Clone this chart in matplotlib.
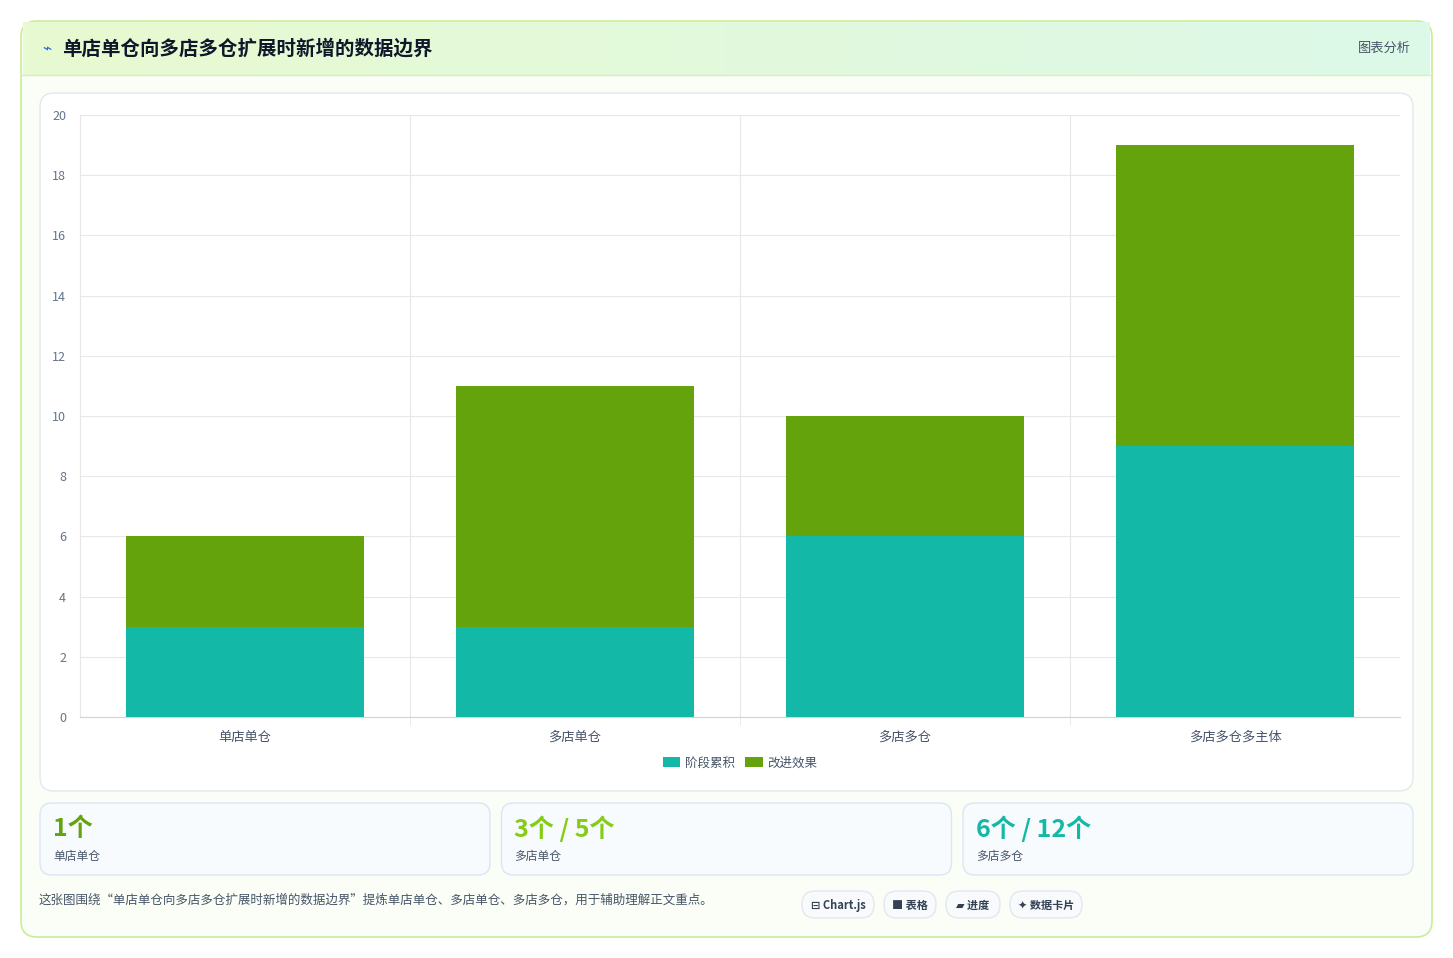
import matplotlib.pyplot as plt
from matplotlib.patches import FancyBboxPatch
from matplotlib.colors import LinearSegmentedColormap
import numpy as np

plt.rcParams['font.family'] = ['Noto Sans CJK SC', 'DejaVu Sans']

# 数据
categories = ["单店单仓", "多店单仓", "多店多仓", "多店多仓多主体"]
stage_acc = [3, 3, 6, 9]
improve = [3, 8, 4, 10]
series_names = ["阶段累积", "改进效果"]
card_values = ["1个", "3个 / 5个", "6个 / 12个"]
card_labels = ["单店单仓", "多店单仓", "多店多仓"]
card_colors = ["#65a30d", "#84cc16", "#14b8a6"]
tags = ["⊟ Chart.js", "■ 表格", "▰ 进度", "✦ 数据卡片"]

W, H = 1453, 958
fig = plt.figure(figsize=(W / 100, H / 100), dpi=100)
fig.patch.set_facecolor('#ffffff')

def box(x, y, w, h, fc, ec, r=12, lw=1, z=-10):
    # 像素坐标 (左上角) 转为图形坐标
    p = FancyBboxPatch((x / W, 1 - (y + h) / H), w / W, h / H,
                       boxstyle=f"round,pad=0,rounding_size={r / W}",
                       transform=fig.transFigure, fc=fc, ec=ec, lw=lw, zorder=z,
                       mutation_aspect=W / H)
    fig.patches.append(p)

def txt(x, y, s, **kw):
    fig.text(x / W, 1 - y / H, s, **kw)

# 外框
box(21, 21, 1411, 916, '#fbfef6', '#c9ec9a', r=16, lw=1.2, z=-20)
# 标题栏渐变
grad = np.linspace(0, 1, 256).reshape(1, -1)
gax = fig.add_axes([23 / W, 1 - 75 / H, 1407 / W, 53 / H])
gax.set_zorder(-5)
cm = LinearSegmentedColormap.from_list('g', ['#e8fad0', '#dcf8e8'])
gax.imshow(grad, aspect='auto', cmap=cm)
gax.axis('off')
fig.lines.append(plt.Line2D([22 / W, 1431 / W], [1 - 75 / H] * 2, transform=fig.transFigure, color='#d6efc0', lw=1))
txt(42, 49, "⌁", fontsize=11, color='#2563eb', va='center')
txt(62, 49, "单店单仓向多店多仓扩展时新增的数据边界", fontsize=14, fontweight='bold', color='#0f172a', va='center')
txt(1411, 48, "图表分析", fontsize=9.5, color='#475569', va='center', ha='right')

# 图表卡片
box(40, 93, 1373, 698, '#ffffff', '#e2e8f0', r=14)

ax = fig.add_axes([80 / W, 1 - 717 / H, 1320 / W, 602 / H])
ax.set_zorder(1)
x = np.arange(len(categories))
ax.bar(x, stage_acc, width=0.72, color='#14b8a6', label=series_names[0], zorder=3)
ax.bar(x, improve, width=0.72, bottom=stage_acc, color='#65a30d', label=series_names[1], zorder=3)
ax.set_xlim(-0.5, 3.5)
ax.set_ylim(0, 20)
ax.set_yticks(range(0, 21, 2))
ax.set_xticks(x)
ax.set_xticklabels(categories, fontsize=9.5, color='#475569')
ax.set_xticks([0.5, 1.5, 2.5], minor=True)
ax.tick_params(axis='x', which='major', length=0, pad=10)
ax.tick_params(axis='x', which='minor', length=6, color='#e5e7eb')
ax.tick_params(axis='y', length=0, labelsize=9, labelcolor='#64748b', pad=10)
ax.grid(axis='y', color='#e5e7eb', lw=0.8, zorder=0)
ax.grid(axis='x', which='minor', color='#e5e7eb', lw=0.8, zorder=0)
for s in ['top', 'right']:
    ax.spines[s].set_visible(False)
ax.spines['left'].set_color('#e5e7eb')
ax.spines['bottom'].set_color('#cbd5e1')
ax.set_facecolor('none')
ax.legend(loc='upper center', bbox_to_anchor=(0.5, -0.047), ncol=2, frameon=False,
          fontsize=9, handlelength=1.4, handleheight=0.9, columnspacing=0.8, handletextpad=0.4,
          labelcolor='#475569')

# 数据卡片
for i in range(3):
    cx = 40 + i * 461.5
    box(cx, 803, 450, 72, '#f8fbfe', '#dbe6f3', r=12)
    txt(cx + 13, 829, card_values[i], fontsize=18, fontweight='bold', color=card_colors[i], va='center')
    txt(cx + 13, 856, card_labels[i], fontsize=8.5, color='#475569', va='center')

txt(39, 900, "这张图围绕“单店单仓向多店多仓扩展时新增的数据边界”提炼单店单仓、多店单仓、多店多仓，用于辅助理解正文重点。",
    fontsize=9, color='#475569', va='center')

tag_x = [802, 884, 946, 1010]
tag_w = [72, 52, 54, 72]
for tx, tw, t in zip(tag_x, tag_w, tags):
    box(tx, 891, tw, 27, '#f8fafc', '#e2e8f0', r=13)
    txt(tx + tw / 2, 905, t, fontsize=8, color='#334155', ha='center', va='center', fontweight='bold')

fig.savefig('out.png', dpi=100)
